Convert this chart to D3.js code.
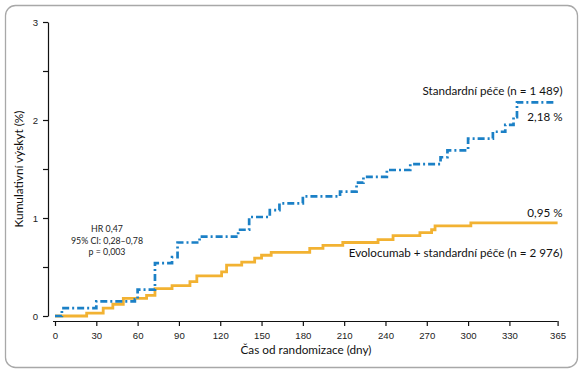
<!DOCTYPE html>
<html>
<head>
<meta charset="utf-8">
<script src="https://cdn.jsdelivr.net/npm/d3@7"></script>
<style>
  body { margin: 0; background: #fff; }
  svg { display: block; font-family: Lato, "Open Sans", sans-serif; }
  .axis text { font-size: 9.6px; fill: #222; }
  .axis path, .axis line { stroke: #111; stroke-width: 1.2; }
</style>
</head>
<body>
<div id="chart-area"></div>
<script>
// Data (days, cumulative incidence %)
var xTicks = [0, 30, 60, 90, 120, 150, 180, 210, 240, 270, 300, 330, 365];
var yTicks = [0, 0.5, 1, 1.5, 2, 2.5, 3];

var stdDays = [0, 5, 30, 58, 60, 72.6, 85, 89, 105, 133, 141, 156, 163, 180, 207, 219, 224, 241, 258, 280, 285, 300, 318, 327, 333, 335.5, 362];
var stdValues = [0, 0.08, 0.15, 0.17, 0.27, 0.54, 0.6, 0.75, 0.81, 0.88, 1.01, 1.08, 1.15, 1.22, 1.27, 1.36, 1.42, 1.49, 1.55, 1.62, 1.69, 1.81, 1.88, 1.95, 2.03, 2.18, 2.18];

var evoDays = [0, 23, 35, 42, 49.6, 66.5, 72.6, 85, 98, 103, 121, 124.6, 135.6, 145, 150, 157, 185, 194.6, 209, 234.6, 245.5, 265, 273.5, 276, 302, 365];
var evoValues = [0, 0.03, 0.08, 0.12, 0.18, 0.21, 0.28, 0.31, 0.35, 0.41, 0.45, 0.52, 0.55, 0.59, 0.62, 0.65, 0.69, 0.72, 0.75, 0.78, 0.82, 0.85, 0.88, 0.92, 0.95, 0.95];

var stdSeries = stdDays.map(function(d, i) { return { t: d, v: stdValues[i] }; });
var evoSeries = evoDays.map(function(d, i) { return { t: d, v: evoValues[i] }; });

var W = 586, H = 375;
var svg = d3.select("#chart-area").append("svg")
    .attr("width", W)
    .attr("height", H);

// písmo se zúží/rozšíří tak, aby text měl šířku jako v předloze
function fitText(sel, targetWidth, baseSize) {
    sel.style("font-size", baseSize + "px");
    var w = sel.node().getComputedTextLength();
    if (w > 0) sel.style("font-size", (baseSize * targetWidth / w).toFixed(2) + "px");
    return sel;
}

// rámeček
svg.append("rect")
    .attr("x", 5.5).attr("y", 5.5)
    .attr("width", 572).attr("height", 362)
    .attr("rx", 10).attr("ry", 10)
    .attr("fill", "none")
    .attr("stroke", "#a8a8a8")
    .attr("stroke-width", 1.3);

// škály
var x = d3.scaleLinear().domain([0, 365]).range([55, 557.6]);
var y = d3.scaleLinear().domain([0, 3]).range([316, 22]);

// osy
var xAxis = d3.axisBottom(x)
    .tickValues(xTicks)
    .tickSize(5)
    .tickSizeOuter(0)
    .tickPadding(6);
var gx = svg.append("g").attr("class", "axis")
    .attr("transform", "translate(0,321)")
    .call(xAxis);
gx.select(".domain").attr("d", "M53,0.5H" + x(365));

var yAxis = d3.axisLeft(y)
    .tickValues(yTicks)
    .tickSize(5)
    .tickSizeOuter(0)
    .tickPadding(5)
    .tickFormat(function(d) { return d % 1 === 0 ? d : ""; });
svg.append("g").attr("class", "axis")
    .attr("transform", "translate(48,0)")
    .call(yAxis);

// křivky
var line = d3.line()
    .x(function(d) { return x(d.t); })
    .y(function(d) { return y(d.v); })
    .curve(d3.curveStepAfter);

svg.append("path")
    .datum(evoSeries)
    .attr("d", line)
    .attr("fill", "none")
    .attr("stroke", "#f2b232")
    .attr("stroke-width", 2.8);

svg.append("path")
    .datum(stdSeries)
    .attr("d", line)
    .attr("fill", "none")
    .attr("stroke", "#1b80c6")
    .attr("stroke-width", 2.7)
    .attr("stroke-dasharray", "7,3,2,3");

// popisky os
var yLab = svg.append("text")
    .attr("transform", "translate(23,169) rotate(-90)")
    .attr("text-anchor", "middle")
    .attr("fill", "#111")
    .text("Kumulativní výskyt (%)");
fitText(yLab, 117, 11);

var xLab = svg.append("text")
    .attr("x", 306).attr("y", 354)
    .attr("text-anchor", "middle")
    .attr("fill", "#111")
    .text("Čas od randomizace (dny)");
fitText(xLab, 131, 11);

// statistika
var stats = ["HR 0,47", "95% CI: 0,28–0,78", "p = 0,003"];
var st = svg.append("g").selectAll("text")
    .data(stats)
    .enter().append("text")
    .attr("x", 107)
    .attr("y", function(d, i) { return 232 + i * 11.5; })
    .attr("text-anchor", "middle")
    .attr("fill", "#222")
    .text(function(d) { return d; });
fitText(st.filter(function(d, i) { return i === 1; }), 72, 9);
st.style("font-size", st.filter(function(d, i) { return i === 1; }).style("font-size"));

// legendy u křivek
var labels = [
    { text: "Standardní péče (n = 1 489)", y: 95 },
    { text: "2,18 %", y: 121 },
    { text: "0,95 %", y: 217 },
    { text: "Evolocumab + standardní péče (n = 2 976)", y: 257 }
];
var lab = svg.append("g").selectAll("text")
    .data(labels)
    .enter().append("text")
    .attr("x", 562.5)
    .attr("y", function(d) { return d.y; })
    .attr("text-anchor", "end")
    .attr("fill", "#111")
    .text(function(d) { return d.text; });
fitText(lab.filter(function(d, i) { return i === 0; }), 140, 11);
var fs = lab.filter(function(d, i) { return i === 0; }).style("font-size");
lab.filter(function(d, i) { return i > 0; }).style("font-size", fs);
</script>
</body>
</html>
